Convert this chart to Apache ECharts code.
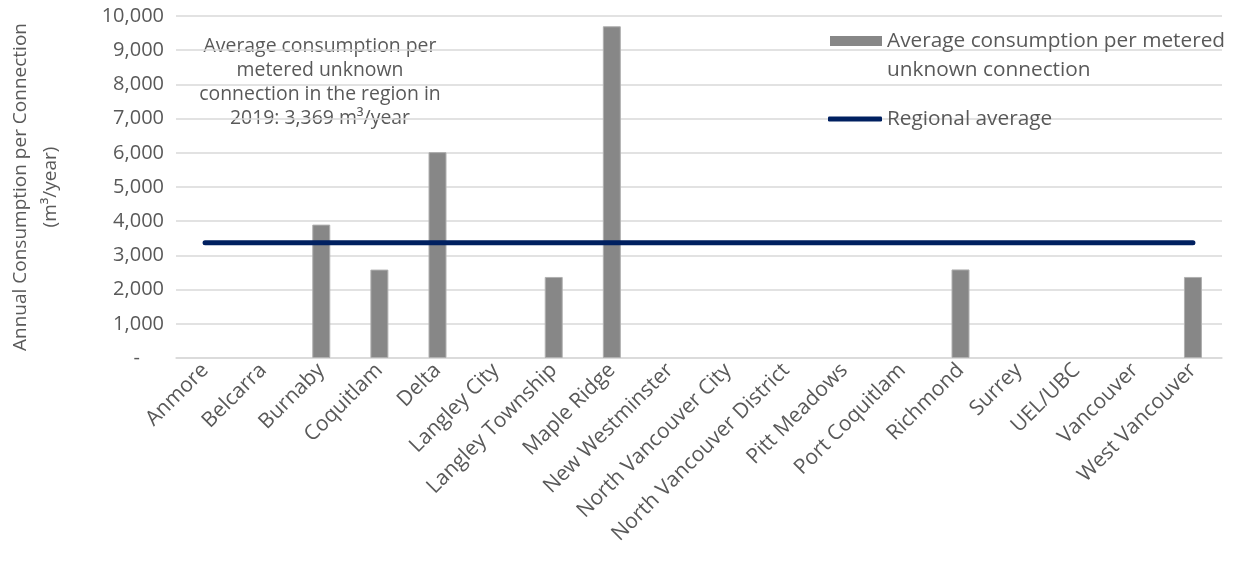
<!DOCTYPE html>
<html>
<head>
<meta charset="utf-8">
<script src="https://cdn.jsdelivr.net/npm/echarts@6/dist/echarts.min.js"></script>
<style>
  html, body { margin: 0; padding: 0; background: #fff; }
  #chart { width: 1241px; height: 563px; }
</style>
</head>
<body>
<div id="chart"></div>
<script>
// Municipalities in the region
const municipalities = [
  'Anmore', 'Belcarra', 'Burnaby', 'Coquitlam', 'Delta', 'Langley City',
  'Langley Township', 'Maple Ridge', 'New Westminster', 'North Vancouver City',
  'North Vancouver District', 'Pitt Meadows', 'Port Coquitlam', 'Richmond',
  'Surrey', 'UEL/UBC', 'Vancouver', 'West Vancouver'
];

// Average consumption per metered unknown connection (m³/year); null = no data
const unknownConnectionAvg = [
  null, null, 3900, 2585, 6020, null,
  2370, 9700, null, null,
  null, null, null, 2590,
  null, null, null, 2370
];

// Regional average for 2019 (m³/year)
const regionalAverage = 3369;

// Y axis ticks
const yTicks = { min: 0, max: 10000, interval: 1000 };

const barName = 'Average consumption per metered unknown connection';
const lineName = 'Regional average';

const FONT = 'Open Sans';
const GREY_TEXT = '#595959';

const chart = echarts.init(document.getElementById('chart'), null, { renderer: 'canvas' });

chart.setOption({
  animation: false,
  textStyle: { fontFamily: FONT },
  grid: { left: 176, right: 19, top: 16, bottom: 205, containLabel: false, outerBoundsMode: 'none' },
  legend: [
    {
      // swatch sits at the top of a taller transparent box so it lines up with the first text line
      data: [{ name: barName, icon: 'path://M0,0H52V10H0Z M0,39L0.01,39' }],
      left: 830,
      top: 26.5,
      padding: 0,
      itemWidth: 52,
      itemHeight: 39,
      itemStyle: { borderWidth: 0 },
      formatter: () => 'Average consumption per metered\nunknown connection',
      textStyle: { fontFamily: FONT, fontSize: 20.8, color: GREY_TEXT, lineHeight: 29 }
    },
    {
      data: [{ name: lineName, icon: 'roundRect' }],
      left: 828,
      top: 104.5,
      padding: 0,
      itemWidth: 54,
      itemHeight: 5,
      textStyle: { fontFamily: FONT, fontSize: 20.8, color: GREY_TEXT, lineHeight: 29 }
    }
  ],
  xAxis: {
    type: 'category',
    data: municipalities,
    axisTick: { show: false },
    axisLine: { lineStyle: { color: '#d9d9d9', width: 1.5 } },
    axisLabel: {
      rotate: 45,
      interval: 0,
      margin: 9,
      fontFamily: FONT,
      fontSize: 21,
      color: GREY_TEXT
    }
  },
  yAxis: {
    type: 'value',
    min: yTicks.min,
    max: yTicks.max,
    interval: yTicks.interval,
    name: 'Annual Consumption per Connection\n(m³/year)',
    nameLocation: 'middle',
    nameGap: 110,
    nameRotate: 90,
    nameTextStyle: { fontFamily: FONT, fontSize: 19, color: GREY_TEXT, lineHeight: 30 },
    axisLine: { show: false },
    axisTick: { show: false },
    splitLine: { lineStyle: { color: '#d9d9d9', width: 1.5 } },
    axisLabel: {
      margin: 12,
      fontFamily: FONT,
      fontSize: 20,
      color: GREY_TEXT,
      // accounting style: zero shown as a dash set back from the digits
      formatter: v => v === 0 ? '{dash|-}' : v.toLocaleString('en-US'),
      rich: { dash: { fontFamily: FONT, fontSize: 20, color: GREY_TEXT, padding: [0, 24, 0, 0] } }
    }
  },
  series: [
    {
      name: barName,
      type: 'bar',
      data: unknownConnectionAvg,
      barWidth: 18,
      itemStyle: { color: '#878787', borderColor: '#b0b0b0', borderWidth: 1 },
      z: 2
    },
    {
      name: lineName,
      type: 'line',
      data: municipalities.map(() => regionalAverage),
      symbol: 'none',
      color: '#002060',
      lineStyle: { color: '#002060', width: 5, cap: 'round' },
      z: 3
    }
  ],
  graphic: [
    {
      type: 'text',
      x: 320,
      y: 34,
      style: {
        text: 'Average consumption per\nmetered unknown\nconnection in the region in\n2019: 3,369 m³/year',
        align: 'center',
        verticalAlign: 'top',
        fontFamily: FONT,
        fontSize: 19.4,
        lineHeight: 24,
        fill: GREY_TEXT
      }
    }
  ]
});
</script>
</body>
</html>
